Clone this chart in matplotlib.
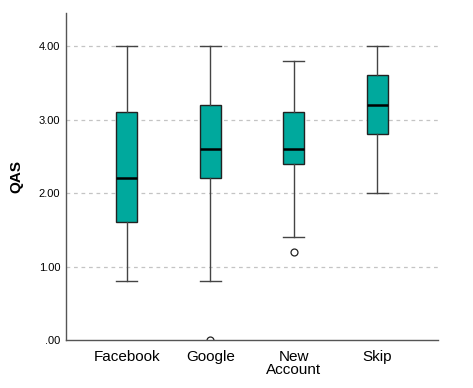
import matplotlib.pyplot as plt

plt.rcParams['font.family'] = ['Liberation Sans', 'DejaVu Sans']

categories = ['Facebook', 'Google', 'New\nAccount', 'Skip']
whislo = [0.8, 0.8, 1.4, 2.0]
q1 = [1.6, 2.2, 2.4, 2.8]
med = [2.2, 2.6, 2.6, 3.2]
q3 = [3.1, 3.2, 3.1, 3.6]
whishi = [4.0, 4.0, 3.8, 4.0]
fliers = [[], [0.0], [1.2], []]

stats = []
for i in range(len(categories)):
    stats.append({'whislo': whislo[i], 'q1': q1[i], 'med': med[i],
                  'q3': q3[i], 'whishi': whishi[i], 'fliers': fliers[i],
                  'label': categories[i]})

fig = plt.figure(figsize=(4.73, 3.88), dpi=100)
ax = fig.add_axes([0.1395, 0.1237, 0.7865, 0.8428])

for y in [1, 2, 3, 4]:
    ax.axhline(y, color='#c4c4c4', linestyle=(0, (3, 3)), linewidth=0.9, zorder=0)

ax.bxp(stats, widths=0.25, patch_artist=True,
       boxprops=dict(facecolor='#00a99d', edgecolor='#222222', linewidth=1.0),
       medianprops=dict(color='black', linewidth=1.8),
       whiskerprops=dict(color='#444444', linewidth=1.0),
       capprops=dict(color='#444444', linewidth=1.0),
       capwidths=0.25,
       flierprops=dict(marker='o', markerfacecolor='white', markeredgecolor='#222222',
                       markersize=5, markeredgewidth=0.9))

ax.set_xlim(0.27, 4.73)
ax.set_ylim(0, 4.45)
ax.set_yticks([0, 1, 2, 3, 4])
ax.set_yticklabels(['.00', '1.00', '2.00', '3.00', '4.00'], fontsize=8)
ax.set_xticklabels(categories, fontsize=11, linespacing=0.95)
ax.tick_params(axis='y', length=0, pad=4)
ax.tick_params(axis='x', length=0, pad=7)
ax.set_ylabel('QAS', fontsize=11, fontweight='bold', labelpad=11)

for s in ['top', 'right']:
    ax.spines[s].set_visible(False)
for s in ['left', 'bottom']:
    ax.spines[s].set_color('#555555')
    ax.spines[s].set_linewidth(1.0)

plt.savefig('out.png', dpi=100)
